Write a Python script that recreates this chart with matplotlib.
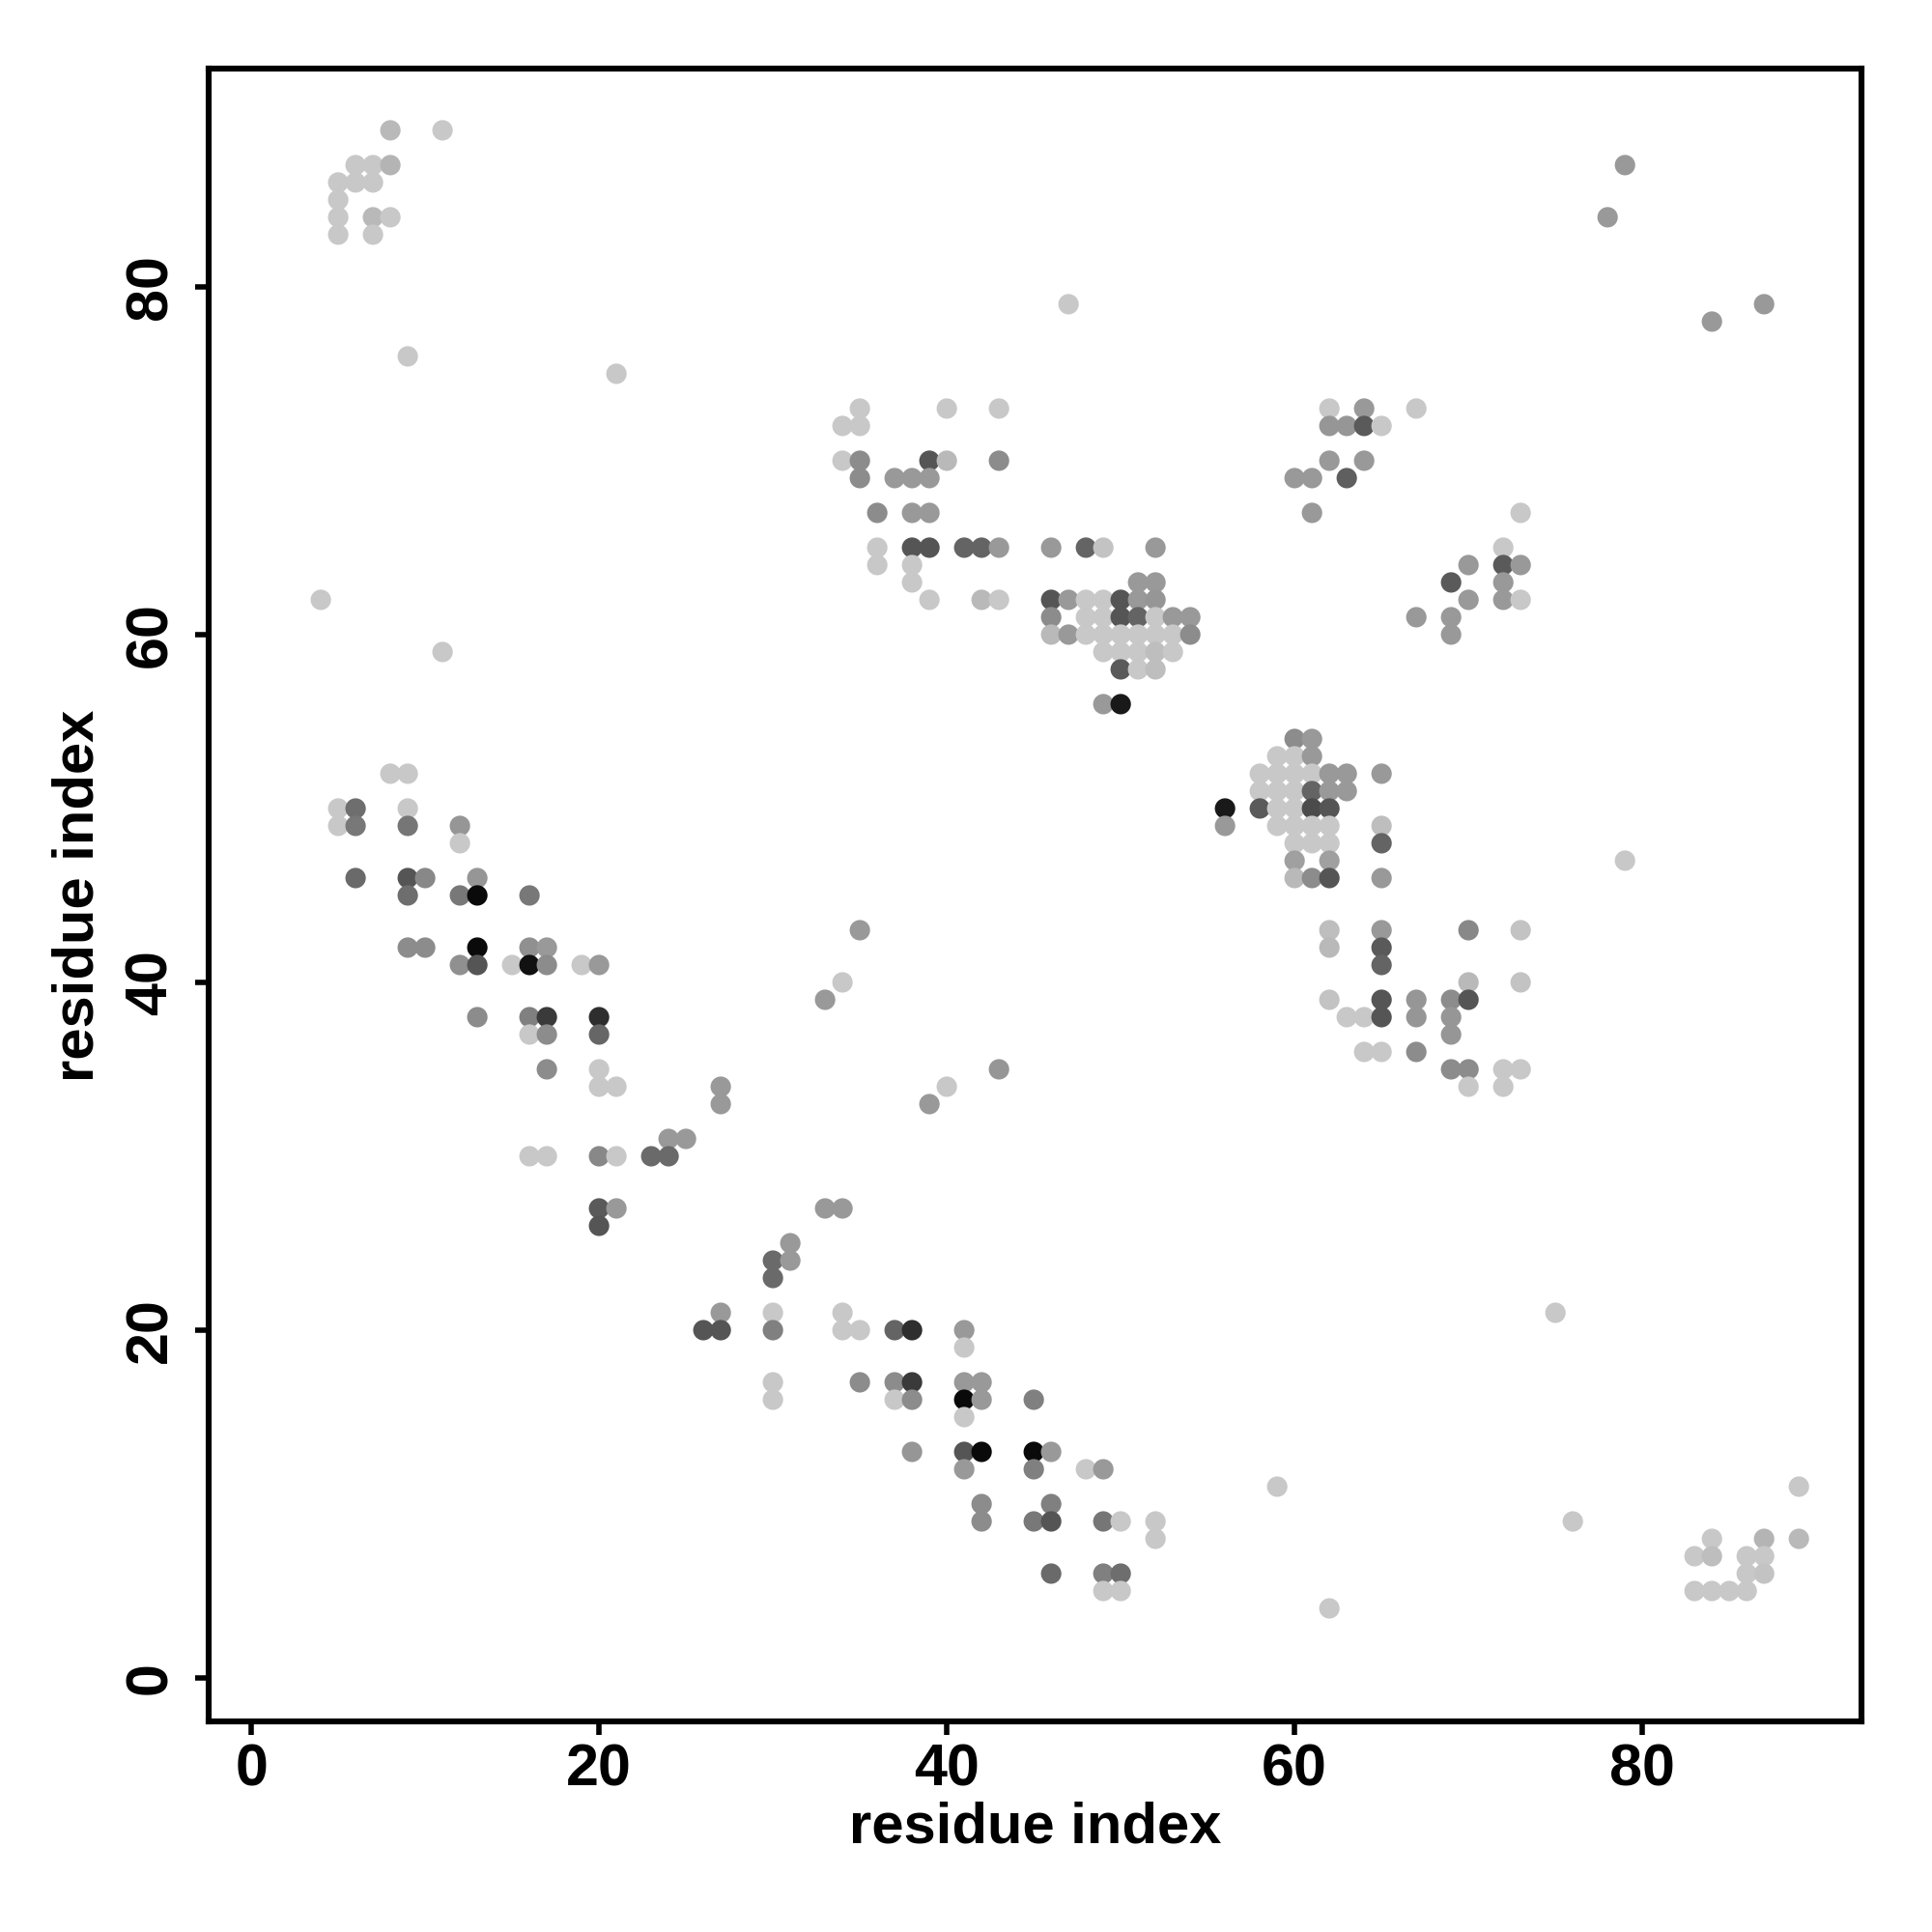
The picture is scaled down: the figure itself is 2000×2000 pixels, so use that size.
import matplotlib
matplotlib.use("Agg")
import matplotlib.pyplot as plt

# residue pairs (x = residue i, y = residue j) and grey level (0 = black, 255 = white)
res_x = [
    8, 11, 6, 7, 8, 5, 6, 7, 5, 5, 7, 8, 5, 7, 9, 21, 4, 11, 47,
    8, 9, 5, 6, 9, 5, 6, 9, 12, 12,
    6, 9, 10, 13, 9, 12, 13, 16,
    9, 10, 13, 16, 17,
    12, 13, 15, 16, 17, 19, 20,
    13, 16, 17, 20,
    16, 17, 20,
    17, 20, 20, 21, 27, 27, 24, 25,
    16, 17, 20, 21, 23, 24,
    20, 21, 20,
    33, 34, 31, 30, 31, 30,
    27, 26, 27, 30, 30,
    34, 34, 35, 37, 38,
    30, 30, 35, 37, 38, 37, 38,
    41, 41, 41, 42, 41, 42, 45, 41,
    38, 41, 42, 45, 46,
    41, 45, 48, 49,
    42, 46,
    42, 45, 46, 49, 50, 52, 52,
    46, 49, 50, 49, 50,
    35, 34, 33, 39, 40, 43,
    35, 40, 43, 34, 35,
    34, 35, 39, 40, 43,
    35, 37, 38, 39,
    36, 38, 39,
    36, 38, 39, 41, 42, 43,
    36, 38, 38, 39, 42, 43,
    46, 48, 49, 52, 51, 52,
    46, 47, 48, 49, 50, 51, 52,
    46, 48, 49, 50, 51, 52, 53, 54,
    46, 47, 48, 49, 50, 51, 52, 53, 54,
    49, 50, 51, 52, 53,
    50, 51, 52, 49, 50,
    60, 61, 59, 60, 61,
    58, 59, 60, 61, 62, 63, 65,
    58, 59, 60, 61, 62, 63,
    56, 58, 59, 60, 61, 62,
    56, 59, 60, 61, 62, 65,
    60, 61, 62, 65,
    60, 62, 79,
    60, 61, 62, 65,
    62, 65, 70, 73,
    62, 65, 65,
    70, 73,
    62, 65, 67, 69, 70,
    63, 64, 65, 67, 69,
    69, 64, 65, 67,
    69, 70, 72, 73, 70, 72,
    62, 64, 67, 62, 63, 64, 65,
    62, 64, 60, 61, 63,
    61, 73,
    72, 70, 72, 73,
    69, 72,
    70, 72, 73,
    67, 69, 69,
    59, 75, 76, 62,
    84, 87, 89, 89,
    83, 84, 86, 87, 86, 87,
    83, 84, 85, 86,
    79, 78, 87, 84,
]
res_y = [
    89, 89, 87, 87, 87, 86, 86, 86, 85, 84, 84, 84, 83, 83, 76, 75, 62, 59, 79,
    52, 52, 50, 50, 50, 49, 49, 49, 49, 48,
    46, 46, 46, 46, 45, 45, 45, 45,
    42, 42, 42, 42, 42,
    41, 41, 41, 41, 41, 41, 41,
    38, 38, 38, 38,
    37, 37, 37,
    35, 35, 34, 34, 34, 33, 31, 31,
    30, 30, 30, 30, 30, 30,
    27, 27, 26,
    27, 27, 25, 24, 24, 23,
    21, 20, 20, 21, 20,
    21, 20, 20, 20, 20,
    17, 16, 17, 17, 17, 16, 16,
    20, 19, 17, 17, 16, 16, 16, 15,
    13, 13, 13, 13, 13,
    12, 12, 12, 12,
    10, 10,
    9, 9, 9, 9, 9, 9, 8,
    6, 6, 6, 5, 5,
    43, 40, 39, 33, 34, 35,
    73, 73, 73, 72, 72,
    70, 70, 70, 70, 70,
    69, 69, 69, 69,
    67, 67, 67,
    65, 65, 65, 65, 65, 65,
    64, 64, 63, 62, 62, 62,
    65, 65, 65, 65, 63, 63,
    62, 62, 62, 62, 62, 62, 62,
    61, 61, 61, 61, 61, 61, 61, 61,
    60, 60, 60, 60, 60, 60, 60, 60, 60,
    59, 59, 59, 59, 59,
    58, 58, 58, 56, 56,
    54, 54, 53, 53, 53,
    52, 52, 52, 52, 52, 52, 52,
    51, 51, 51, 51, 51, 51,
    50, 50, 50, 50, 50, 50,
    49, 49, 49, 49, 49, 49,
    48, 48, 48, 48,
    47, 47, 47,
    46, 46, 46, 46,
    43, 43, 43, 43,
    42, 42, 41,
    40, 40,
    39, 39, 39, 39, 39,
    38, 38, 38, 38, 38,
    37, 36, 36, 36,
    35, 35, 35, 35, 34, 34,
    73, 73, 73, 72, 72, 72, 72,
    70, 70, 69, 69, 69,
    67, 67,
    65, 64, 64, 64,
    63, 63,
    62, 62, 62,
    61, 61, 60,
    11, 21, 9, 4,
    8, 8, 8, 11,
    7, 7, 7, 7, 6, 6,
    5, 5, 5, 5,
    87, 84, 79, 78,
]
grey = [
    185, 200, 200, 200, 180, 200, 200, 200, 200, 200, 185, 200, 200, 200, 200, 200, 200, 200, 200,
    200, 200, 200, 110, 200, 200, 120, 118, 150, 200,
    106, 85, 136, 150, 110, 120, 10, 120,
    140, 140, 10, 144, 153,
    144, 85, 200, 17, 140, 200, 153,
    140, 128, 58, 46,
    200, 140, 102,
    140, 200, 200, 200, 153, 153, 153, 153,
    200, 200, 136, 200, 106, 106,
    90, 153, 85,
    153, 153, 153, 106, 153, 106,
    153, 85, 85, 200, 128,
    200, 200, 200, 100, 46,
    200, 200, 140, 140, 58, 200, 140,
    153, 200, 153, 153, 10, 153, 128, 200,
    150, 85, 10, 10, 153,
    153, 128, 200, 153,
    140, 128,
    140, 120, 85, 118, 200, 200, 200,
    106, 128, 110, 200, 200,
    153, 200, 153, 153, 200, 150,
    200, 200, 200, 200, 200,
    200, 140, 85, 185, 140,
    140, 153, 153, 153,
    140, 153, 153,
    200, 85, 85, 100, 100, 153,
    200, 200, 200, 200, 185, 200,
    153, 100, 195, 153, 153, 153,
    85, 153, 200, 200, 85, 153, 150,
    140, 200, 200, 85, 100, 200, 153, 153,
    185, 153, 200, 200, 200, 200, 200, 200, 140,
    200, 200, 200, 190, 200,
    90, 200, 190, 153, 25,
    140, 153, 200, 200, 153,
    200, 200, 200, 200, 153, 153, 153,
    200, 200, 200, 100, 153, 153,
    25, 90, 200, 200, 75, 85,
    153, 200, 200, 200, 200, 190,
    200, 200, 200, 100,
    160, 160, 200,
    185, 140, 85, 153,
    190, 153, 136, 195,
    185, 90, 100,
    185, 195,
    195, 85, 150, 140, 85,
    200, 200, 85, 150, 150,
    150, 200, 200, 140,
    140, 140, 200, 200, 200, 200,
    200, 153, 200, 150, 150, 90, 200,
    153, 153, 153, 153, 95,
    153, 200,
    200, 153, 90, 153,
    90, 153,
    153, 153, 200,
    153, 153, 153,
    200, 200, 200, 200,
    200, 180, 185, 200,
    200, 190, 200, 200, 200, 195,
    200, 200, 200, 200,
    153, 153, 153, 153,
]
assert len(res_x) == len(res_y) == len(grey)

ticks = [0, 20, 40, 60, 80]
axis_label = "residue index"

plt.rcParams['font.family'] = ['Liberation Sans', 'DejaVu Sans']
plt.rcParams['font.weight'] = 'bold'

fig = plt.figure(figsize=(10, 10), dpi=200)
ax = fig.add_axes([0.108, 0.109, 0.8555, 0.8555])

colors = [(g / 255.0, g / 255.0, g / 255.0) for g in grey]
ax.scatter(res_x, res_y, c=colors, s=58, linewidths=0)

ax.set_xlim(-2.45, 92.6)
ax.set_ylim(-2.5, 92.55)
ax.set_xticks(ticks)
ax.set_yticks(ticks)
ax.set_xticklabels([str(t) for t in ticks], fontsize=22, fontweight='bold')
ax.set_yticklabels([str(t) for t in ticks], fontsize=22, fontweight='bold',
                   rotation=90, va='center')
ax.tick_params(axis='both', length=5, width=2.0, direction='out')
ax.tick_params(axis='x', pad=3)
ax.tick_params(axis='y', pad=6)
for sp in ax.spines.values():
    sp.set_linewidth(2.2)

fig.text(0.5357, 0.054, axis_label, ha='center', va='center',
         fontsize=21.5, fontweight='bold')
fig.text(0.0405, 0.5365, axis_label, ha='center', va='center',
         fontsize=21.5, fontweight='bold', rotation=90)

fig.savefig("out.png", dpi=200, facecolor='white')
